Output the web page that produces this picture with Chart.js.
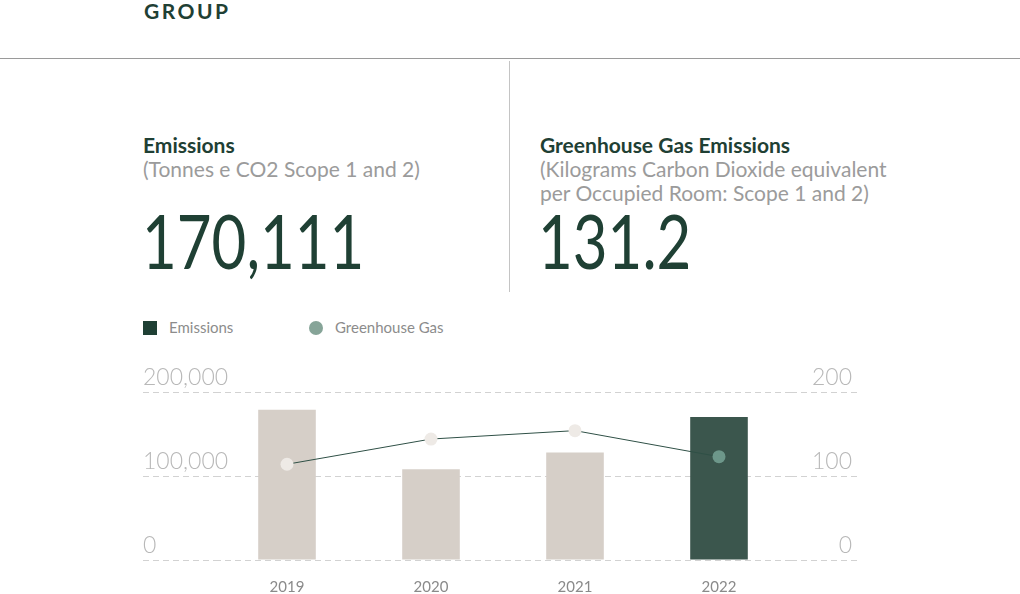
<!DOCTYPE html>
<html>
<head>
<meta charset="utf-8">
<script src="https://cdn.jsdelivr.net/npm/chart.js@4"></script>
<style>
  html, body { margin: 0; padding: 0; background: #fff; }
  body { width: 1020px; height: 594px; position: relative; overflow: hidden; font-family: Lato, sans-serif; }
  .abs { position: absolute; white-space: nowrap; }
  .group { left: 144px; top: -2px; font-size: 21px; font-weight: 700; letter-spacing: 2.5px; color: #1f4034; }
  .hr { left: 0; top: 58px; width: 1020px; height: 1px; background: #9a9a9a; }
  .vr { left: 509px; top: 61px; width: 1px; height: 231px; background: #c4c4c4; }
  .title { font-size: 21px; font-weight: 700; color: #1f4034; }
  .sub { font-size: 21px; font-weight: 400; color: #9b9b9b; line-height: 24px; }
  .big { font-size: 75px; font-weight: 400; color: #1f4034; transform: scaleX(0.8); transform-origin: left top; line-height: 75px; }
  .legend { top: 318px; font-size: 15px; color: #8c8c8c; line-height: 18px; }
  .swatch { display: inline-block; width: 14px; height: 14px; vertical-align: -2px; margin-right: 12px; }
  #wrap { position: absolute; left: 0; top: 350px; width: 1020px; height: 266px; }
</style>
</head>
<body>
<div class="abs group">GROUP</div>
<div class="abs hr"></div>
<div class="abs vr"></div>

<div class="abs title" style="left:143px; top:132px;">Emissions</div>
<div class="abs sub" style="left:143px; top:157px;">(Tonnes e CO2 Scope 1 and 2)</div>
<div class="abs big" style="left:142px; top:203px;">170,111</div>

<div class="abs title" style="left:540px; top:132px;">Greenhouse Gas Emissions</div>
<div class="abs sub" style="left:540px; top:157px;">(Kilograms Carbon Dioxide equivalent<br>per Occupied Room: Scope 1 and 2)</div>
<div class="abs big" style="left:538px; top:203px;">131.2</div>

<div class="abs legend" style="left:143px;"><span class="swatch" style="background:#1f4034;"></span>Emissions</div>
<div class="abs legend" style="left:309px;"><span class="swatch" style="background:#86a498; border-radius:50%;"></span>Greenhouse Gas</div>

<div id="wrap"><canvas id="chart" width="1020" height="266"></canvas></div>

<script>
// chart data
const years = ['2019', '2020', '2021', '2022'];
const emissions = [179000, 108000, 128000, 170111];
const greenhouseGas = [114, 144, 154, 123];
const emissionsTicks = [0, 100000, 200000];
const ghgTicks = [0, 100, 200];

const barColors = ['#d6cfc8', '#d6cfc8', '#d6cfc8', '#3b564d'];
const pointColors = ['#eeeae6', '#eeeae6', '#eeeae6', '#6d978a'];

const gridColor = '#d2d2d2';
const tickFont = { family: 'Lato', size: 23, weight: 300, lineHeight: 1.25 };

var ctx = document.getElementById('chart').getContext('2d');
var myChart = new Chart(ctx, {
    data: {
        labels: years,
        datasets: [
            {
                type: 'line',
                label: 'Greenhouse Gas',
                data: greenhouseGas,
                yAxisID: 'y1',
                order: 0,
                borderColor: '#2f5046',
                borderWidth: 1,
                pointRadius: 6.5,
                pointBorderWidth: 0,
                pointBackgroundColor: pointColors,
                tension: 0
            },
            {
                type: 'bar',
                label: 'Emissions',
                data: emissions,
                yAxisID: 'y',
                order: 1,
                backgroundColor: barColors,
                categoryPercentage: 1,
                barPercentage: 0.4
            }
        ]
    },
    options: {
        responsive: false,
        animation: false,
        layout: { padding: { left: 143, right: 168, top: 42, bottom: 2 } },
        plugins: { legend: { display: false }, tooltip: { enabled: false } },
        scales: {
            x: {
                grid: { display: false, drawTicks: false },
                border: { display: false },
                ticks: { padding: 18, color: '#8a8a8a', font: { family: 'Lato', size: 15 } }
            },
            y: {
                position: 'left',
                min: 0,
                max: 200000,
                afterBuildTicks: scale => { scale.ticks = emissionsTicks.map(v => ({ value: v })); },
                afterFit: scale => { scale.width = 72; },
                grid: {
                    color: gridColor,
                    tickColor: gridColor,
                    drawTicks: true,
                    tickLength: 72,
                    tickBorderDash: [6, 4]
                },
                border: { display: false, dash: [6, 4] },
                ticks: {
                    mirror: true,
                    crossAlign: 'near',
                    padding: -72,
                    autoSkip: false,
                    color: '#b8b8b8',
                    font: tickFont,
                    callback: value => [value.toLocaleString('en-US'), '']
                }
            },
            y1: {
                position: 'right',
                min: 0,
                max: 200,
                afterBuildTicks: scale => { scale.ticks = ghgTicks.map(v => ({ value: v })); },
                afterFit: scale => { scale.width = 61; },
                grid: {
                    drawOnChartArea: false,
                    tickColor: gridColor,
                    drawTicks: true,
                    tickLength: 66,
                    tickBorderDash: [6, 4]
                },
                border: { display: false },
                ticks: {
                    crossAlign: 'far',
                    padding: 0,
                    autoSkip: false,
                    color: '#b8b8b8',
                    font: tickFont,
                    callback: value => [String(value), '']
                }
            }
        }
    }
});
</script>
</body>
</html>
